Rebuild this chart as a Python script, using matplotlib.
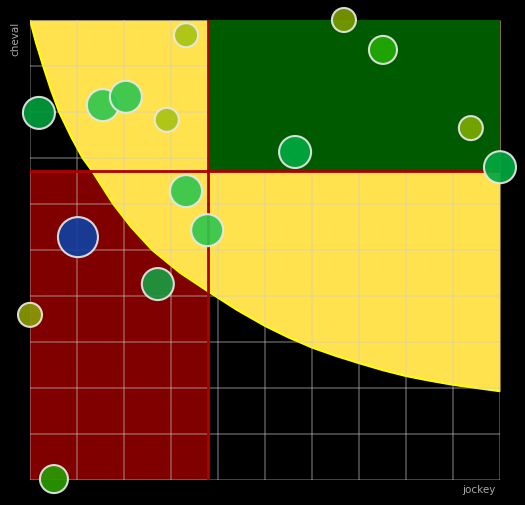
import matplotlib
matplotlib.use("Agg")
import matplotlib.pyplot as plt
from matplotlib.patches import Rectangle

# bubble data (jockey score, cheval score, weight, colour)
jockey = [3.32, 6.68, 7.51, 0.19, 1.55, 2.04, 2.91, 9.38, 5.64, 10.0, 3.32, 3.77, 1.02, 2.72, 0.0, 0.51]
cheval = [9.67, 10.0, 9.35, 7.98, 8.15, 8.33, 7.83, 7.65, 7.13, 6.80, 6.28, 5.43, 5.28, 4.26, 3.59, 0.02]
weight = [12, 12, 14, 16, 16, 16, 12, 12, 16, 16, 16, 16, 20, 16, 12, 14]
colours = ["#a8c314", "#7a9a00", "#22aa00", "#009c3c", "#33c64f", "#33c64f", "#a8c314", "#7aaa00",
           "#00a840", "#00a840", "#33c64f", "#33c64f", "#1040a0", "#1a9a40", "#8a9a00", "#2a9a00"]

# threshold lines
x_cut = 3.79
y_cut = 6.72

# boundary of the yellow zone
curve_x = [0, 0.13, 0.28, 0.44, 0.62, 0.88, 1.12, 1.32, 1.77, 2.15, 2.6, 3.2, 3.79,
           4.4, 5.0, 5.5, 6.0, 6.5, 7.0, 7.5, 8.0, 8.5, 9.0, 9.5, 10.0]
curve_y = [10, 9.5, 9.0, 8.5, 8.0, 7.45, 7.0, 6.72, 6.0, 5.5, 5.0, 4.5, 4.1,
           3.7, 3.35, 3.1, 2.88, 2.7, 2.54, 2.39, 2.26, 2.16, 2.07, 2.0, 1.93]

fig = plt.figure(figsize=(5.25, 5.05), dpi=100, facecolor="black")
ax = fig.add_axes([30 / 525, 25 / 505, 470 / 525, 460 / 505])
ax.set_facecolor("black")
ax.set_xlim(0, 10)
ax.set_ylim(0, 10)

ax.add_patch(Rectangle((0, 0), x_cut, y_cut, color="#800000", zorder=1, lw=0))
ax.fill_between(curve_x, curve_y, 10, color="#ffe24d", lw=0, zorder=2)
ax.plot(curve_x, curve_y, color="#ffff00", lw=1.5, zorder=2.5, solid_joinstyle="round")
ax.add_patch(Rectangle((x_cut, y_cut), 10 - x_cut, 10 - y_cut, color="#005a00", zorder=3, lw=0))

ax.set_xticks(range(11))
ax.set_yticks(range(11))
ax.grid(True, color="#cccccc", alpha=0.4, lw=1.2, zorder=4)
ax.set_axisbelow(False)
ax.tick_params(length=0, labelbottom=False, labelleft=False)
for s in ax.spines.values():
    s.set_visible(False)

ax.axvline(x_cut, color="#b00000", lw=2, zorder=5)
ax.axhline(y_cut, color="#b00000", lw=2, zorder=5)

# weight is the radius in px, convert to points^2
sizes = [(2 * w * 72 / 100) ** 2 for w in weight]
ax.scatter(jockey, cheval, s=sizes, c=colours, edgecolors="#e8e8e8", linewidths=1.5,
           alpha=0.92, zorder=6, clip_on=False)

fig.text(15 / 525, 1 - 22 / 505, "cheval", rotation=90, color="#aaaaaa", fontsize=7.5,
         ha="center", va="top")
fig.text(496 / 525, 1 - 490 / 505, "jockey", color="#aaaaaa", fontsize=7.5,
         ha="right", va="center")

fig.savefig("out.png", dpi=100, facecolor="black")
